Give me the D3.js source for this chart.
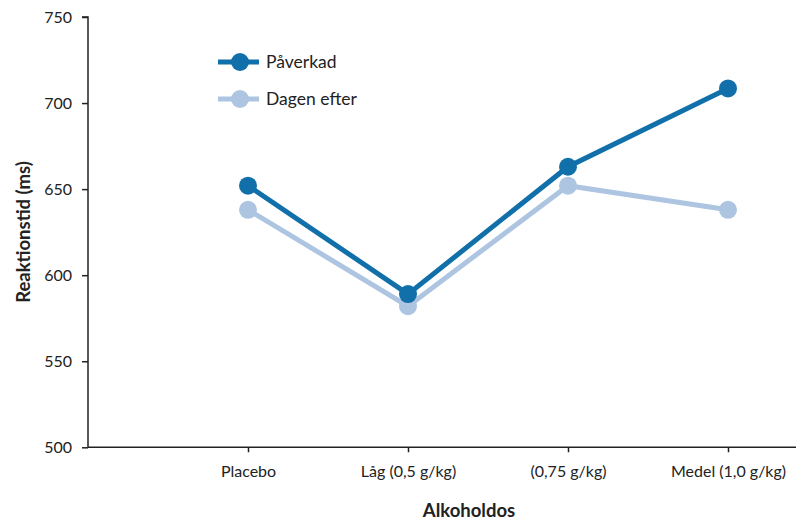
<!DOCTYPE html>
<html><head><meta charset="utf-8">
<script src="https://cdn.jsdelivr.net/npm/d3@7"></script>
<style>body{margin:0;background:#fff}svg{display:block}text{font-family:Lato,"Open Sans",sans-serif;fill:#222}</style>
</head><body>
<svg id="c" width="796" height="521"></svg>
<script>
const categories = ["Placebo","Låg (0,5 g/kg)","(0,75 g/kg)","Medel (1,0 g/kg)"];
const paverkad = [652, 589, 663, 708.5];
const dagenEfter = [638, 582, 652, 638];
const seriesNames = ["Påverkad","Dagen efter"];
const yTicks = [500,550,600,650,700,750];
const colors = ["#1170aa","#aec5e2"];

const svg = d3.select("#c");
const x0 = 88, xEnd = 796, yTop = 17, yBot = 447.3;
const x = d3.scalePoint().domain(["", ...categories]).range([x0, x0 + 160*4]);
const y = d3.scaleLinear().domain([500,750]).range([yBot, yTop]);

// y axis
const ya = svg.append("g").attr("transform",`translate(${x0},0)`)
  .call(d3.axisLeft(y).tickValues(yTicks).tickSize(6).tickPadding(10));
ya.select(".domain").attr("stroke","#222").attr("stroke-width",1.5).attr("d",`M-6,${yTop}H0V${yBot}`);
ya.selectAll(".tick line").attr("stroke","#222").attr("stroke-width",1.5);
ya.selectAll(".tick text").style("font-size","16px").attr("fill","#222");

// x axis
const xa = svg.append("g").attr("transform",`translate(0,${yBot})`)
  .call(d3.axisBottom(x).tickValues(categories).tickSize(5).tickPadding(13));
xa.select(".domain").attr("stroke","#222").attr("stroke-width",1.5).attr("d",`M${x0},0H${xEnd}`);
xa.selectAll(".tick line").attr("stroke","#222").attr("stroke-width",1.5);
xa.selectAll(".tick text").style("font-size","16px").attr("fill","#222");

// titles
svg.append("text").attr("x",469).attr("y",517).attr("text-anchor","middle")
  .style("font-size","18.5px").style("font-weight","bold").text("Alkoholdos");
svg.append("text").attr("transform","translate(30,232) rotate(-90)").attr("text-anchor","middle")
  .style("font-size","18.5px").style("font-weight","bold").text("Reaktionstid (ms)");

const line = d3.line().x((d,i)=>x(categories[i])).y(d=>y(d));
[dagenEfter, paverkad].forEach((s,k)=>{
  const c = colors[1-k];
  svg.append("path").datum(s).attr("d",line).attr("fill","none").attr("stroke",c).attr("stroke-width",5);
  svg.selectAll(null).data(s).enter().append("circle")
    .attr("cx",(d,i)=>x(categories[i])).attr("cy",d=>y(d)).attr("r",9).attr("fill",c);
});

// legend
seriesNames.forEach((n,i)=>{
  const ly = 62 + i*37;
  const g = svg.append("g");
  g.append("line").attr("x1",218).attr("x2",259).attr("y1",ly).attr("y2",ly).attr("stroke",colors[i]).attr("stroke-width",5);
  g.append("circle").attr("cx",240).attr("cy",ly).attr("r",9).attr("fill",colors[i]);
  g.append("text").attr("x",266).attr("y",ly+6).style("font-size","17.5px").text(n);
});
</script>
</body></html>
